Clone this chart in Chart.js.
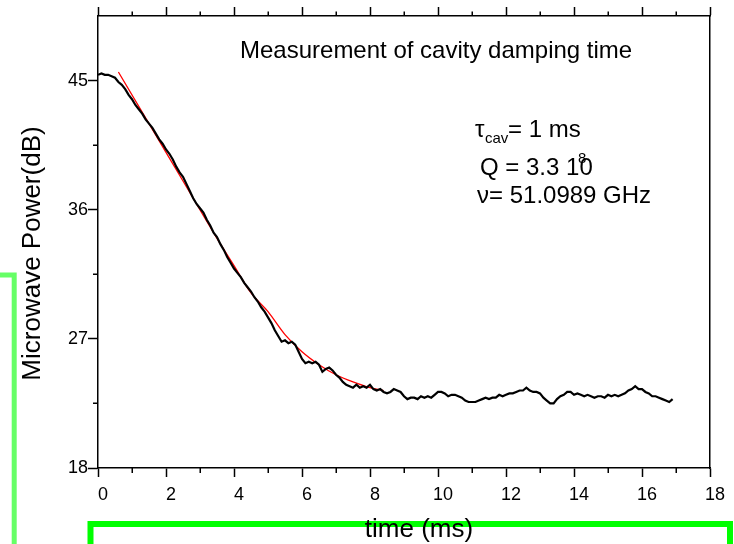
<!DOCTYPE html>
<html><head><meta charset="utf-8">
<script src="https://cdn.jsdelivr.net/npm/chart.js@4"></script>
<style>html,body{margin:0;padding:0;background:#fff}</style>
</head><body>
<canvas id="c" width="734" height="544"></canvas>
<script>
const traceTime = [0.0,0.1,0.2,0.3,0.4,0.5,0.6,0.7,0.8,0.9,1.0,1.1,1.2,1.3,1.4,1.5,1.6,1.7,1.8,1.9,
2.0,2.1,2.2,2.3,2.4,2.5,2.6,2.7,2.8,2.9,3.0,3.1,3.2,3.3,3.4,3.5,3.6,3.7,3.8,3.9,
4.0,4.1,4.2,4.3,4.4,4.5,4.6,4.7,4.8,4.9,5.0,5.1,5.2,5.3,5.4,5.5,5.6,5.7,5.8,5.9,
6.0,6.1,6.2,6.3,6.4,6.5,6.6,6.7,6.8,6.9,7.0,7.1,7.2,7.3,7.4,7.5,7.6,7.7,7.8,7.9,
8.0,8.1,8.2,8.3,8.4,8.5,8.6,8.7,8.8,8.9,9.0,9.1,9.2,9.3,9.4,9.5,9.6,9.7,9.8,9.9,
10.0,10.1,10.2,10.3,10.4,10.5,10.6,10.7,10.8,10.9,11.0,11.1,11.2,11.3,11.4,11.5,11.6,11.7,11.8,11.9,
12.0,12.1,12.2,12.3,12.4,12.5,12.6,12.7,12.8,12.9,13.0,13.1,13.2,13.3,13.4,13.5,13.6,13.7,13.8,13.9,
14.0,14.1,14.2,14.3,14.4,14.5,14.6,14.7,14.8,14.9,15.0,15.1,15.2,15.3,15.4,15.5,15.6,15.7,15.8,15.9,
16.0,16.1,16.2,16.3,16.4,16.5,16.6,16.7,16.8,16.9];
const tracePower = [45.4,45.5,45.4,45.4,45.3,45.2,44.9,44.7,44.4,44.0,43.7,43.3,43.0,42.7,42.3,42.0,41.7,41.3,40.9,40.6,
40.2,39.9,39.5,39.0,38.6,38.3,37.8,37.3,36.8,36.4,36.1,35.8,35.3,34.9,34.4,34.1,33.6,33.2,32.7,32.3,
31.9,31.6,31.3,30.9,30.6,30.3,29.9,29.6,29.2,28.9,28.5,28.1,27.6,27.2,26.8,26.9,26.7,26.8,26.6,26.1,
25.6,25.3,25.4,25.3,25.4,25.2,24.7,24.9,25.0,24.8,24.5,24.3,24.0,23.8,23.7,23.6,23.8,23.6,23.7,23.6,
23.8,23.5,23.4,23.5,23.3,23.2,23.3,23.5,23.4,23.3,23.0,22.8,22.9,22.9,22.8,23.0,22.9,23.0,22.9,23.1,
23.3,23.3,23.2,23.0,23.1,23.1,23.0,22.9,22.7,22.6,22.6,22.6,22.7,22.8,22.9,22.8,22.9,22.9,23.1,23.0,
23.1,23.2,23.2,23.3,23.4,23.4,23.6,23.4,23.3,23.3,23.2,22.9,22.7,22.5,22.5,22.8,23.0,23.1,23.3,23.3,
23.1,23.2,23.1,23.0,23.1,23.0,22.9,23.0,23.0,22.9,23.1,23.0,23.1,23.0,23.1,23.2,23.4,23.5,23.7,23.5,
23.5,23.3,23.2,23.0,23.0,22.9,22.8,22.7,22.6,22.8];
const fitTime  = [0.6, 1.5, 2.5, 3.5, 4.0, 4.5, 5.0, 5.5, 6.0, 6.5, 7.0, 7.5, 8.0, 8.4];
const fitPower = [45.6,42.0,38.0,34.0,32.1,30.2,28.9,27.3,26.1,25.2,24.5,24.0,23.6,23.4];

const xMajorTicks = [0,2,4,6,8,10,12,14,16,18];
const xMinorTicks = [1,3,5,7,9,11,13,15,17];
const yMajorTicks = [18,27,36,45];
const yMinorTicks = [22.5,31.5,40.5];

const chartTitle = 'Measurement of cavity damping time';
const xTitle = 'time (ms)';
const yTitle = 'Microwave Power(dB)';
const noteTau = ['\u03C4', 'cav', '= 1 ms'];
const noteQ = ['Q = 3.3 10', '8'];
const noteNu = '\u03BD= 51.0989 GHz';

const FONT = '"Liberation Sans", Arial, sans-serif';

const decor = {
  id: 'decor',
  afterDraw(chart) {
    const ctx = chart.ctx;
    const sx = chart.scales.x, sy = chart.scales.y;
    const a = chart.chartArea;
    ctx.save();
    // minor ticks
    ctx.strokeStyle = '#000'; ctx.lineWidth = 1.5;
    ctx.beginPath();
    xMinorTicks.forEach(v => {
      const px = Math.round(sx.getPixelForValue(v)) + 0.25;
      ctx.moveTo(px, a.bottom); ctx.lineTo(px, a.bottom + 5);
      ctx.moveTo(px, a.top); ctx.lineTo(px, a.top - 4.5);
    });
    yMinorTicks.forEach(v => {
      const py = Math.round(sy.getPixelForValue(v)) + 0.25;
      ctx.moveTo(a.left, py); ctx.lineTo(a.left - 5, py);
    });
    ctx.stroke();
    // green frames
    ctx.strokeStyle = '#66ff66'; ctx.lineWidth = 5;
    ctx.beginPath(); ctx.moveTo(0, 275); ctx.lineTo(14.2, 275); ctx.lineTo(14.2, 560); ctx.stroke();
    ctx.strokeStyle = '#00ff00'; ctx.lineWidth = 6;
    ctx.beginPath(); ctx.moveTo(90.5, 560); ctx.lineTo(90.5, 524); ctx.lineTo(730, 524); ctx.lineTo(730, 560); ctx.stroke();
    // texts
    ctx.fillStyle = '#000';
    ctx.textBaseline = 'alphabetic';
    ctx.textAlign = 'left';
    ctx.font = '24px ' + FONT;
    ctx.fillText(chartTitle, 240, 58);
    ctx.fillText(noteTau[0], 475, 137);
    ctx.fillText(noteTau[2], 508, 137);
    ctx.fillText(noteQ[0], 480, 175);
    ctx.fillText(noteNu, 477, 203);
    ctx.font = '15px ' + FONT;
    ctx.fillText(noteTau[1], 485, 143);
    ctx.fillText(noteQ[1], 578, 163);
    ctx.font = '26px ' + FONT;
    ctx.textAlign = 'center';
    ctx.fillText(xTitle, 419, 537);
    ctx.translate(33, 253.5);
    ctx.rotate(-Math.PI / 2);
    ctx.textBaseline = 'middle';
    ctx.fillText(yTitle, 0, 0);
    ctx.restore();
  }
};

const setTicks = arr => s => { s.ticks = arr.map(v => ({value: v})); };
const gridOpts = {drawOnChartArea: false, drawTicks: true, tickColor: '#000', tickWidth: 1.5};
const borderOpts = {display: true, color: '#000', width: 1.5};

new Chart(document.getElementById('c'), {
  type: 'line',
  data: {
    datasets: [
      {
        label: 'measurement',
        data: traceTime.map((t, i) => ({x: t, y: tracePower[i]})),
        borderColor: '#000', borderWidth: 2.2, pointRadius: 0, tension: 0, fill: false
      },
      {
        label: 'fit',
        data: fitTime.map((t, i) => ({x: t, y: fitPower[i]})),
        borderColor: '#ff0000', borderWidth: 1.3, pointRadius: 0,
        cubicInterpolationMode: 'monotone', fill: false
      }
    ]
  },
  options: {
    responsive: false, animation: false, devicePixelRatio: 1,
    layout: {padding: {left: 10, right: 24, top: 0, bottom: 0}},
    plugins: {legend: {display: false}, tooltip: {enabled: false}, title: {display: false}},
    scales: {
      x: {
        type: 'linear', position: 'bottom', min: 0, max: 18,
        afterBuildTicks: setTicks(xMajorTicks),
        afterFit: s => { s.height = 76; },
        ticks: {color: '#000', font: {size: 18, family: FONT}, padding: 7, labelOffset: 5, maxRotation: 0, autoSkip: false},
        grid: Object.assign({tickLength: 9}, gridOpts),
        border: borderOpts
      },
      x2: {
        type: 'linear', position: 'top', min: 0, max: 18,
        afterBuildTicks: setTicks(xMajorTicks),
        afterFit: s => { s.height = 16; },
        ticks: {display: false},
        grid: Object.assign({tickLength: 9}, gridOpts),
        border: borderOpts
      },
      y: {
        type: 'linear', position: 'left', min: 18, max: 49.5,
        afterBuildTicks: setTicks(yMajorTicks),
        afterFit: s => { s.width = 88; },
        ticks: {color: '#000', font: {size: 18, family: FONT}, padding: 0, includeBounds: false},
        grid: Object.assign({tickLength: 10}, gridOpts),
        border: borderOpts
      },
      y2: {
        type: 'linear', position: 'right', min: 18, max: 49.5,
        afterFit: s => { s.width = 0; },
        ticks: {display: false},
        grid: {drawOnChartArea: false, drawTicks: false},
        border: borderOpts
      }
    }
  },
  plugins: [decor]
});
</script>
</body></html>
